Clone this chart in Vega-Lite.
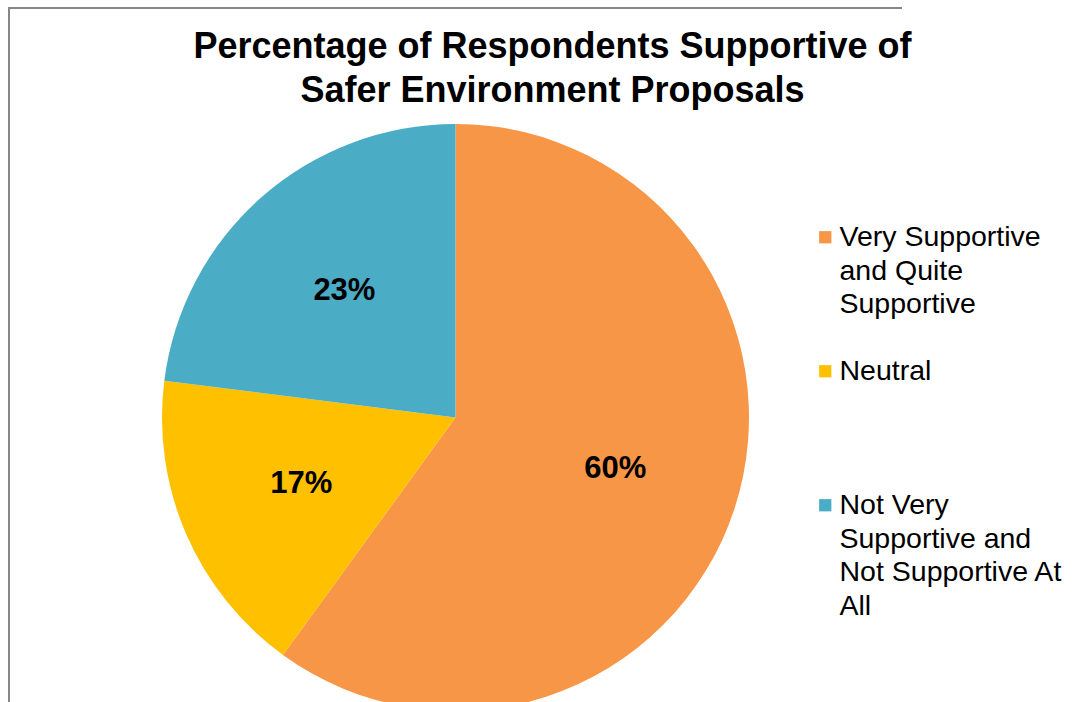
{
  "$schema": "https://vega.github.io/schema/vega-lite/v6.json",
  "width": 893,
  "height": 819,
  "padding": {"left": 9, "top": 8, "right": 0, "bottom": 0},
  "background": "white",
  "view": {
    "stroke": "#878787",
    "strokeWidth": 2,
    "strokeDash": [893, 819, 1712, 1]
  },
  "title": {
    "text": ["Percentage of Respondents Supportive of", "Safer Environment Proposals"],
    "font": "Liberation Sans",
    "fontSize": 36,
    "fontWeight": "bold",
    "color": "black",
    "lineHeight": 44,
    "anchor": "middle",
    "frame": "group",
    "baseline": "top",
    "offset": -102,
    "dx": 97
  },
  "data": {
    "values": [
      {"category": "Very Supportive and Quite Supportive", "value": 0.60, "order": 1},
      {"category": "Neutral", "value": 0.17, "order": 2},
      {"category": "Not Very Supportive and Not Supportive At All", "value": 0.23, "order": 3}
    ]
  },
  "encoding": {
    "theta": {"field": "value", "type": "quantitative", "stack": true},
    "order": {"field": "order", "type": "quantitative"}
  },
  "layer": [
    {
      "mark": {"type": "arc", "radius": 293.5},
      "encoding": {
        "color": {
          "field": "category",
          "type": "nominal",
          "scale": {
            "domain": ["Very Supportive and Quite Supportive", "Neutral", "Not Very Supportive and Not Supportive At All"],
            "range": ["#F79646", "#FFC000", "#4BACC6"]
          },
          "legend": {
            "title": null,
            "orient": "none",
            "legendX": 802,
            "legendY": 215,
            "padding": 0,
            "symbolType": "square",
            "symbolSize": 150,
            "symbolStrokeWidth": 0,
            "labelFont": "Liberation Sans",
            "labelFontSize": 28.5,
            "labelColor": "black",
            "labelOffset": 0,
            "labelLimit": 400,
            "labelBaseline": "middle",
            "gridAlign": "all",
            "rowPadding": 4,
            "labelExpr": "datum.label == 'Very Supportive and Quite Supportive' ? ['Very Supportive', 'and Quite', 'Supportive'] : datum.label == 'Neutral' ? 'Neutral' : ['Not Very', 'Supportive and', 'Not Supportive At', 'All']",
            "encode": {
              "labels": {"update": {"lineHeight": {"value": 33.5}}}
            }
          }
        }
      }
    },
    {
      "mark": {
        "type": "text",
        "radius": 168,
        "font": "Liberation Sans",
        "fontSize": 31,
        "fontWeight": "bold",
        "color": "black"
      },
      "encoding": {
        "text": {"field": "value", "type": "quantitative", "format": ".0%"}
      }
    }
  ]
}
